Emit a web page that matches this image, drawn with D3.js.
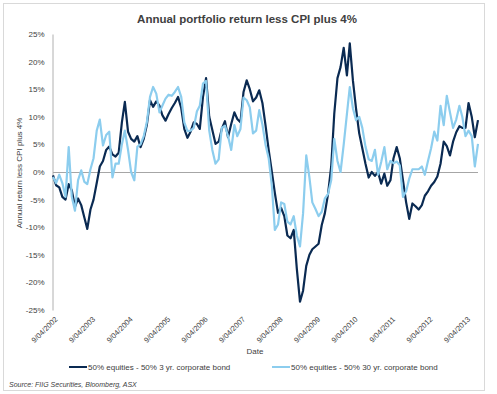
<!DOCTYPE html>
<html>
<head>
<meta charset="utf-8">
<script src="https://cdn.jsdelivr.net/npm/d3@7"></script>
<style>
  body { margin: 0; background: #fff; }
  text { font-family: "Liberation Sans", Arial, sans-serif; fill: #404040; }
</style>
</head>
<body>
<script>
let width = 497
let height = 394

// monthly readings, first point 9 April 2002
const startDate = new Date(2002, 3, 9)
const seriesNames = ["50% equities - 50%  3 yr. corporate bond", "50% equities - 50%  30 yr. corporate bond"]
const colors = ["#0a2a52", "#8ccdee"]

const bond3yr = [
  -0.6, -2.4, -2.8, -4.5, -5.0, -2.2, -3.3, -6.3, -4.8, -6.0,
  -8.3, -10.3, -6.8, -5.0, -2.0, 1.0, 2.0, 4.0, 4.6, 3.2,
  2.8, 3.5, 9.0, 12.7, 7.3, 6.0, 5.5, 6.5, 4.5, 6.0,
  8.5, 13.0, 11.8, 12.8, 12.0, 10.3, 9.3, 10.5, 11.6, 12.5,
  13.6, 11.6, 7.8, 6.2, 7.3, 9.0, 8.7, 7.8, 13.6, 17.0,
  10.0, 7.6, 5.1, 5.5, 7.8, 9.2, 6.3, 8.7, 10.8, 9.6,
  9.0, 14.5, 16.6, 15.0, 12.8, 13.5, 14.8, 12.5, 8.5, 4.0,
  0.0, -3.8, -7.4, -6.5, -8.0, -11.5, -12.0, -10.5, -17.5, -23.5,
  -21.5, -17.0, -15.0, -14.0, -13.5, -13.0, -9.6, -7.5, -4.0, 1.0,
  10.6, 17.0, 19.0, 22.5, 17.5, 23.3, 16.5, 11.5, 7.0, 4.3,
  1.5, -1.0, 0.0, -0.7, 0.0, -2.1, -0.3, -2.5, -1.5, 2.5,
  4.5, 2.5, -1.5, -5.5, -8.5, -5.7, -6.2, -6.8, -6.0, -4.3,
  -3.5, -2.5, -1.8, -0.8, 1.5, 5.5, 4.7, 3.0, 5.5, 7.2,
  8.3, 8.0, 8.0, 12.5, 10.0, 6.3, 9.4
]

const bond30yr = [
  -0.9, -2.0, -0.5, -2.0, -4.5, 4.5, -4.5, -7.0, -1.5, 0.3,
  -1.8, -2.2, 0.5, 2.5, 7.5, 9.5, 4.8, 6.7, 7.3, -1.0,
  1.5, 1.5, 5.0, 7.5, 4.0, 0.0, -1.5, 4.6, 5.0, 6.5,
  9.0, 13.6, 15.4, 14.2, 10.8, 12.0, 13.3, 14.0, 13.8, 14.5,
  15.4, 13.6, 9.0, 7.4, 7.5, 8.0, 11.0, 12.0, 16.0, 16.5,
  7.5, 4.0, 1.5, 2.3, 8.0, 8.4, 6.5, 4.0, 8.5, 6.5,
  7.8, 13.5, 13.0, 11.7, 7.0, 7.5, 11.2, 8.6, 5.0, 2.5,
  -2.5, -10.5, -9.5, -5.5, -5.8, -9.0, -9.5, -8.0, -11.5, -13.5,
  -7.5, 3.0, -1.0, -5.5, -6.7, -8.0, -7.2, -4.8, -4.0, -1.5,
  6.0, 2.0, 0.0, 5.0, 10.5, 15.4, 11.5, 9.4, 10.0, 8.0,
  4.6, 2.3, 2.0, 4.0, -0.5, 1.8, 4.5, 0.5, 2.0, 1.6,
  1.9, 1.2, -4.5, -3.5, -1.2, 0.5, 0.5, 0.5, 1.0, -0.5,
  2.0, 4.3, 7.3, 5.7, 12.0, 8.5, 13.8, 10.8, 8.0, 9.5,
  12.0, 10.0, 6.5, 7.5, 6.5, 1.0, 5.1
]

const yTicks = [-25, -20, -15, -10, -5, 0, 5, 10, 15, 20, 25]
const tickYears = [2002, 2003, 2004, 2005, 2006, 2007, 2008, 2009, 2010, 2011, 2012, 2013]
const tickLabels = tickYears.map(yr => "9/04/" + yr)

let dates = bond3yr.map((d, i) => d3.timeMonth.offset(startDate, i))

let svg = d3.select("body").append("svg")
  .attr("width", width)
  .attr("height", height)

// outer frame
svg.append("rect")
  .attr("x", 3.5).attr("y", 3.5)
  .attr("width", 481).attr("height", 387)
  .attr("fill", "none")
  .attr("stroke", "#d9d9d9")

let x = d3.scaleTime()
  .domain([startDate, dates[dates.length - 1]])
  .range([53, 478])

let y = d3.scaleLinear()
  .domain([-25, 25])
  .range([310, 34])

// y axis
let yAxis = svg.append("g")
  .attr("transform", "translate(52.5,0)")
  .call(d3.axisLeft(y).tickValues(yTicks).tickFormat(d => d + "%").tickSize(0).tickPadding(8))
yAxis.select(".domain").attr("stroke", "#b0b0b0")
yAxis.selectAll("text")
  .style("font-size", "8px")
  .style("font-family", "Liberation Sans, Arial, sans-serif")
  .attr("fill", "#404040")

// x axis labels
let xAxis = svg.append("g")
  .attr("transform", "translate(0,310)")
  .call(d3.axisBottom(x).tickValues(tickYears.map(yr => new Date(yr, 3, 9)))
    .tickFormat((d, i) => tickLabels[i]).tickSize(0))
xAxis.select(".domain").remove()
xAxis.selectAll("text")
  .style("font-size", "7.5px")
  .style("font-family", "Liberation Sans, Arial, sans-serif")
  .attr("fill", "#404040")
  .attr("text-anchor", "end")
  .attr("dy", "0.3em")
  .attr("transform", "translate(1,6) rotate(-45)")

// zero line
svg.append("line")
  .attr("x1", x(startDate)).attr("x2", x(dates[dates.length - 1]))
  .attr("y1", y(0) + 0.5).attr("y2", y(0) + 0.5)
  .attr("stroke", "#a6a6a6")

let line = d3.line()
  .x((d, i) => x(dates[i]))
  .y(d => y(d))

svg.append("path")
  .datum(bond3yr)
  .attr("d", line)
  .attr("fill", "none")
  .attr("stroke", colors[0])
  .attr("stroke-width", 2.2)
  .attr("stroke-linejoin", "round")

svg.append("path")
  .datum(bond30yr)
  .attr("d", line)
  .attr("fill", "none")
  .attr("stroke", colors[1])
  .attr("stroke-width", 2.2)
  .attr("stroke-linejoin", "round")

// title
svg.append("text")
  .attr("x", 247).attr("y", 23)
  .attr("text-anchor", "middle")
  .style("font-size", "11.5px")
  .style("font-weight", "bold")
  .text("Annual portfolio return less CPI plus 4%")

svg.append("text")
  .attr("transform", "translate(22,173) rotate(-90)")
  .attr("text-anchor", "middle")
  .style("font-size", "8px")
  .text("Annual return less CPI plus 4%")

svg.append("text")
  .attr("x", 255).attr("y", 354)
  .attr("text-anchor", "middle")
  .style("font-size", "8px")
  .text("Date")

// legend
let legend = svg.selectAll(".legend")
  .data(seriesNames).enter()
  .append("g")
  .attr("transform", (d, i) => "translate(" + [69, 272][i] + ",367)")
legend.append("line")
  .attr("x1", 0).attr("x2", 18)
  .attr("stroke", (d, i) => colors[i])
  .attr("stroke-width", 2)
legend.append("text")
  .attr("x", 19).attr("dy", "0.33em")
  .style("font-size", "8px")
  .text(d => d)

svg.append("text")
  .attr("x", 9).attr("y", 387)
  .style("font-size", "7px")
  .style("font-style", "italic")
  .text("Source: FIIG Securities, Bloomberg, ASX")
</script>
</body>
</html>
